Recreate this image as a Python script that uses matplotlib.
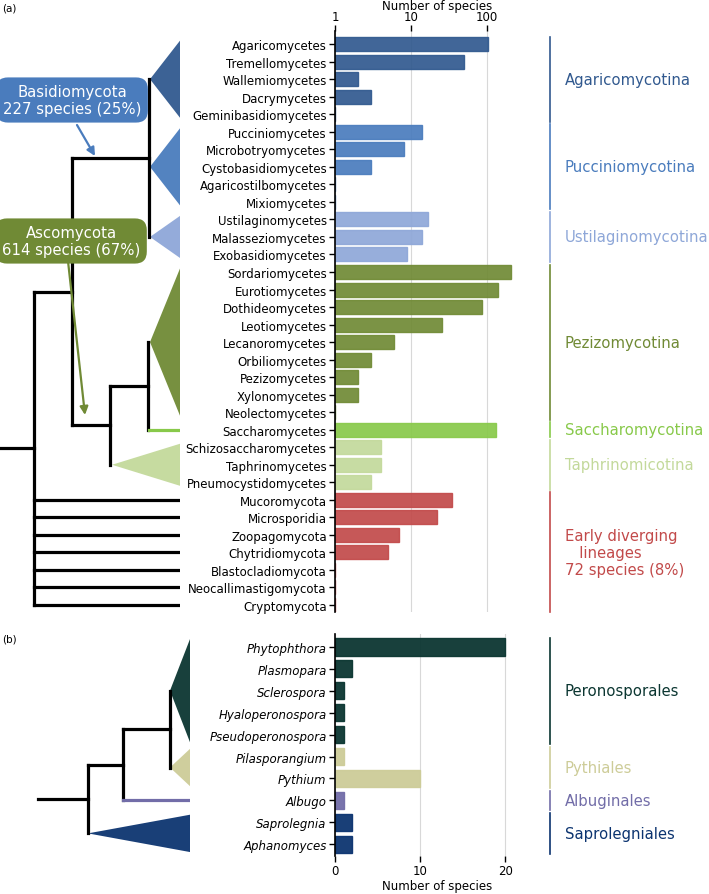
import numpy as np
import matplotlib.pyplot as plt
from matplotlib.patches import Polygon
from matplotlib.ticker import FixedLocator, FixedFormatter, NullLocator

W, H = 709, 895

# ---- data, panel (a): fungi, species per class ----
fungi_classes = ['Agaricomycetes', 'Tremellomycetes', 'Wallemiomycetes', 'Dacrymycetes',
                 'Geminibasidiomycetes', 'Pucciniomycetes', 'Microbotryomycetes',
                 'Cystobasidiomycetes', 'Agaricostilbomycetes', 'Mixiomycetes',
                 'Ustilaginomycetes', 'Malasseziomycetes', 'Exobasidiomycetes',
                 'Sordariomycetes', 'Eurotiomycetes', 'Dothideomycetes', 'Leotiomycetes',
                 'Lecanoromycetes', 'Orbiliomycetes', 'Pezizomycetes', 'Xylonomycetes',
                 'Neolectomycetes', 'Saccharomycetes', 'Schizosaccharomycetes',
                 'Taphrinomycetes', 'Pneumocystidomycetes', 'Mucoromycota', 'Microsporidia',
                 'Zoopagomycota', 'Chytridiomycota', 'Blastocladiomycota',
                 'Neocallimastigomycota', 'Cryptomycota']
fungi_counts = [104, 50, 2, 3, 1, 14, 8, 3, 1, 1, 17, 14, 9,
                207, 139, 87, 26, 6, 3, 2, 2, 1, 130, 4, 4, 3,
                35, 22, 7, 5, 1, 1, 1]
fungi_groups = ['Agaricomycotina', 'Pucciniomycotina', 'Ustilaginomycotina', 'Pezizomycotina',
                'Saccharomycotina', 'Taphrinomicotina',
                'Early diverging\n   lineages\n72 species (8%)']
fungi_group_sizes = [5, 5, 3, 9, 1, 3, 7]
fungi_colors = ['#31598f', '#4a7cbd', '#8ea7d8', '#708a35', '#88c94a', '#c3d99b', '#c24a4a']

# ---- data, panel (b): oomycetes, species per genus ----
oomy_genera = ['Phytophthora', 'Plasmopara', 'Sclerospora', 'Hyaloperonospora',
               'Pseudoperonospora', 'Pilasporangium', 'Pythium', 'Albugo',
               'Saprolegnia', 'Aphanomyces']
oomy_counts = [20, 2, 1, 1, 1, 1, 10, 1, 2, 2]
oomy_groups = ['Peronosporales', 'Pythiales', 'Albuginales', 'Saprolegniales']
oomy_group_sizes = [5, 2, 1, 2]
oomy_colors = ['#0b3631', '#cdcc98', '#726da8', '#0c3470']

basidio_label = 'Basidiomycota\n227 species (25%)'
asco_label = 'Ascomycota\n614 species (67%)'


def spans(sizes):
    ends = np.cumsum(sizes)
    return list(zip(ends - np.array(sizes), ends - 1))


def px_rect(x0, y0, x1, y1):
    return [x0 / W, 1 - y1 / H, (x1 - x0) / W, (y1 - y0) / H]


def bar_colors(sizes, colors):
    out = []
    for n, c in zip(sizes, colors):
        out += [c] * n
    return out


def group_labels(ax, sizes, colors, names):
    tr = ax.get_yaxis_transform()
    for (a, b), c, name in zip(spans(sizes), colors, names):
        ax.plot([1.049, 1.049], [a - 0.42, b + 0.42], color=c, lw=1.2,
                transform=tr, clip_on=False)
        ax.text(1.12, (a + b) / 2, name, color=c, fontsize=10.7, va='center',
                ha='left', transform=tr, clip_on=False)


def style_bars(ax):
    ax.tick_params(axis='y', length=4, width=1, labelsize=8.5, pad=2)
    ax.tick_params(axis='x', length=4, width=1, labelsize=8.5, pad=1.5)
    ax.grid(axis='x', color='#d8d8d8', lw=0.8)
    ax.set_axisbelow(True)
    ax.spines['right'].set_visible(False)
    ax.spines['left'].set_linewidth(1.2)


plt.rcParams['font.family'] = ['DejaVu Sans']
fig = plt.figure(figsize=(W / 100, H / 100), dpi=100)

# ================= panel (a) bars =================
axa = fig.add_axes(px_rect(335, 32, 540, 613))
ya = np.arange(len(fungi_classes))
ca = bar_colors(fungi_group_sizes, fungi_colors)
axa.barh(ya, fungi_counts, height=0.8, color=ca, alpha=0.92, edgecolor=ca, linewidth=1)
axa.set_xscale('log')
axa.set_xlim(1, 500)
axa.set_ylim(32.4, -0.75)
axa.set_yticks(ya)
axa.set_yticklabels(fungi_classes)
axa.xaxis.set_major_locator(FixedLocator([1, 10, 100]))
axa.xaxis.set_major_formatter(FixedFormatter(['1', '10', '100']))
axa.xaxis.set_minor_locator(NullLocator())
axa.xaxis.tick_top()
axa.xaxis.set_label_position('top')
axa.set_xlabel('Number of species', fontsize=8.5, labelpad=1)
axa.spines['bottom'].set_visible(False)
axa.spines['top'].set_visible(False)
style_bars(axa)
group_labels(axa, fungi_group_sizes, fungi_colors, fungi_groups)

# ================= panel (a) tree =================
ta = fig.add_axes(px_rect(0, 32, 180, 613))
ta.set_xlim(0, 180)
ta.set_ylim(32.4, -0.75)
ta.axis('off')
k = dict(color='black', lw=2.3, solid_capstyle='projecting', solid_joinstyle='miter')
fs = spans(fungi_group_sizes)
mid = [(a + b) / 2 for a, b in fs]


def tri(ax, xa, ya_, a, b, c, xe=180, ext=0.2):
    ax.add_patch(Polygon([(xa, ya_), (xe, a - ext), (xe, b + ext)], closed=True,
                         fc=c, ec='none', alpha=0.95))


basid_y = (mid[0] + mid[2]) / 2
ps_y = (mid[3] + mid[4]) / 2
asco_y = (ps_y + mid[5]) / 2
dik_y = (basid_y + asco_y) / 2
early = np.arange(fs[6][0], fs[6][1] + 1)
root_y = (dik_y + early[-1]) / 2

ta.plot([0, 34], [root_y, root_y], **k)
ta.plot([34, 34], [dik_y, early[-1]], **k)
for r in early:
    ta.plot([34, 180], [r, r], **k)
ta.plot([34, 72], [dik_y, dik_y], **k)
ta.plot([72, 72], [basid_y, asco_y], **k)
ta.plot([72, 149], [basid_y, basid_y], **k)
ta.plot([149, 149], [mid[0], mid[2]], **k)
for i in range(3):
    tri(ta, 150, mid[i], fs[i][0], fs[i][1], fungi_colors[i])
ta.plot([72, 110], [asco_y, asco_y], **k)
ta.plot([110, 110], [ps_y, mid[5]], **k)
tri(ta, 112, mid[5], fs[5][0], fs[5][1], fungi_colors[5])
ta.plot([110, 148], [ps_y, ps_y], **k)
ta.plot([148, 148], [mid[3], mid[4]], **k)
tri(ta, 150, mid[3], fs[3][0], fs[3][1], fungi_colors[3])
ta.plot([149, 180], [mid[4], mid[4]], color=fungi_colors[4], lw=2.3)

# ================= panel (b) bars =================
axb = fig.add_axes(px_rect(335, 635, 540, 857))
yb = np.arange(len(oomy_genera))
cb = bar_colors(oomy_group_sizes, oomy_colors)
axb.barh(yb, oomy_counts, height=0.8, color=cb, alpha=0.95, edgecolor=cb, linewidth=1)
axb.set_xlim(0, 24.1)
axb.set_ylim(9.53, -0.58)
axb.set_yticks(yb)
axb.set_yticklabels(oomy_genera, style='italic')
axb.set_xticks([0, 10, 20])
axb.set_xlabel('Number of species', fontsize=8.5, labelpad=2)
axb.spines['top'].set_visible(False)
axb.spines['bottom'].set_visible(False)
style_bars(axb)
group_labels(axb, oomy_group_sizes, oomy_colors, oomy_groups)

# ================= panel (b) tree =================
tb = fig.add_axes(px_rect(0, 635, 190, 857))
tb.set_xlim(0, 190)
tb.set_ylim(9.53, -0.58)
tb.axis('off')
os_ = spans(oomy_group_sizes)
om = [(a + b) / 2 for a, b in os_]
p_y = (om[0] + om[1]) / 2
q_y = (p_y + om[2]) / 2
r_y = (q_y + om[3]) / 2
tri(tb, 170, om[0], os_[0][0], os_[0][1], oomy_colors[0], xe=190, ext=0.35)
tri(tb, 170, om[1], os_[1][0], os_[1][1], oomy_colors[1], xe=190, ext=0.35)
tb.plot([170, 170], [om[0], om[1]], **k)
tb.plot([123, 170], [p_y, p_y], **k)
tb.plot([123, 123], [p_y, om[2]], **k)
tb.plot([123, 190], [om[2], om[2]], color=oomy_colors[2], lw=2.3)
tb.plot([88, 123], [q_y, q_y], **k)
tb.plot([88, 88], [q_y, om[3]], **k)
tri(tb, 88, om[3], os_[3][0], os_[3][1], oomy_colors[3], xe=190, ext=0.35)
tb.plot([38, 88], [r_y, r_y], **k)

# ================= annotations =================
ann = fig.add_axes([0, 0, 1, 1])
ann.set_xlim(0, W)
ann.set_ylim(H, 0)
ann.axis('off')
ann.annotate('', xy=(95, 157), xytext=(77, 126),
             arrowprops=dict(arrowstyle='-|>', color=fungi_colors[1], lw=1.6,
                             mutation_scale=12, shrinkA=0, shrinkB=0))
ann.annotate('', xy=(85, 416), xytext=(68, 262),
             arrowprops=dict(arrowstyle='-|>', color=fungi_colors[3], lw=1.6,
                             mutation_scale=12, shrinkA=0, shrinkB=0))
ann.text(72, 101, basidio_label, ha='center', va='center', color='white', fontsize=10.7,
         linespacing=1.15,
         bbox=dict(boxstyle='round,pad=0.45,rounding_size=0.8', fc=fungi_colors[1], ec='none'))
ann.text(71, 242, asco_label, ha='center', va='center', color='white', fontsize=10.7,
         linespacing=1.15,
         bbox=dict(boxstyle='round,pad=0.45,rounding_size=0.8', fc=fungi_colors[3], ec='none'))
ann.text(2, 8, '(a)', fontsize=7.5, va='center', ha='left')
ann.text(2, 640, '(b)', fontsize=7.5, va='center', ha='left')

fig.savefig('out.png', dpi=100)
